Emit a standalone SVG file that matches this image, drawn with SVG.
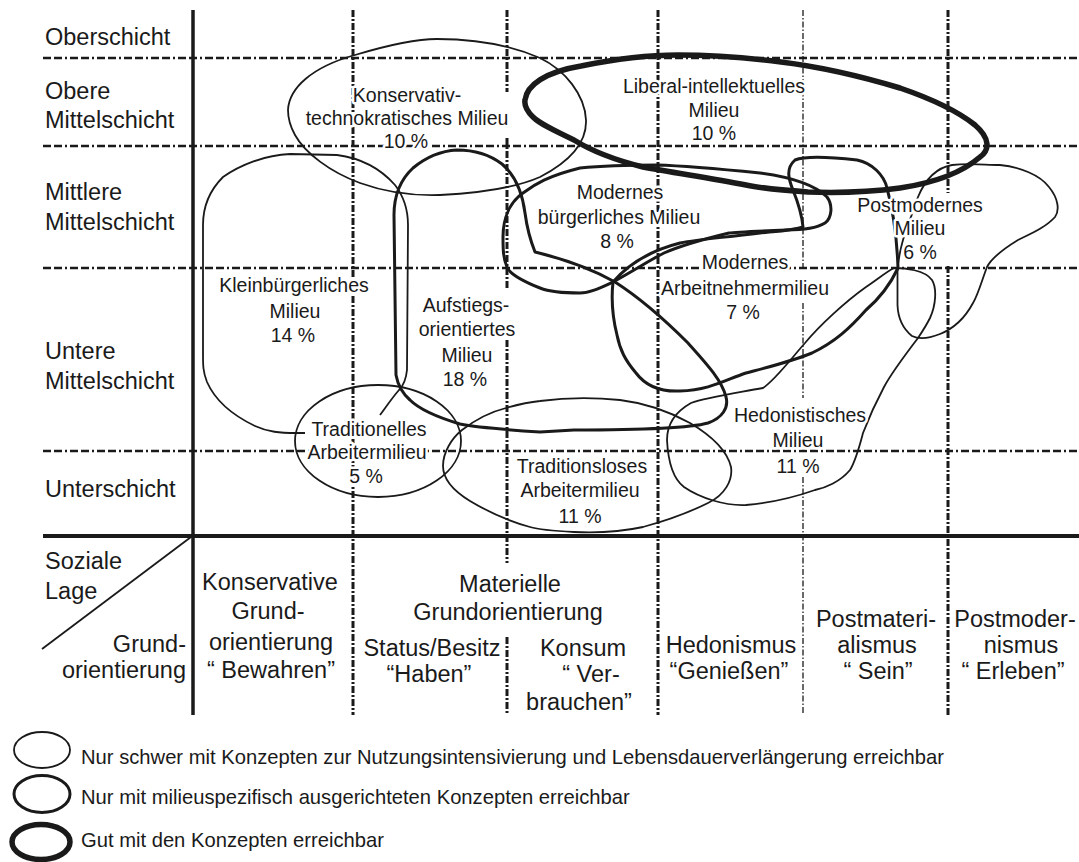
<svg xmlns="http://www.w3.org/2000/svg" width="1079" height="862" viewBox="0 0 1079 862">
<style>
text{font-family:"Liberation Sans",Arial,sans-serif;fill:#1a1a1a}
.ax{font-size:23.5px}
.ml{font-size:19.5px;text-anchor:middle;stroke:#fff;stroke-width:5;stroke-linejoin:round;paint-order:stroke}
.bt{font-size:23.5px;text-anchor:middle}
.lg{font-size:20.2px}
.h{stroke:#1a1a1a;stroke-width:2.3;stroke-dasharray:8 3 8 3 2 3;fill:none}
.v{stroke:#1a1a1a;stroke-width:3;stroke-dasharray:7 2 2 2;fill:none}
.vt{stroke:#1a1a1a;stroke-width:1.3;stroke-dasharray:6 2 1.5 2;fill:none}
.thin{fill:none;stroke:#1a1a1a;stroke-width:1.8;stroke-linejoin:round}
.med{fill:none;stroke:#1a1a1a;stroke-width:3;stroke-linejoin:round}
.thick{fill:none;stroke:#1a1a1a;stroke-width:5.5;stroke-linejoin:round}
</style>
<rect width="1079" height="862" fill="#fff"/>
<g id="grid">
<line class="h" x1="43" y1="58" x2="1079" y2="58"/>
<line class="h" x1="43" y1="146" x2="1079" y2="146"/>
<line class="h" x1="43" y1="268" x2="1079" y2="268"/>
<line class="h" x1="43" y1="451" x2="1079" y2="451"/>
<line class="v" x1="353" y1="10" x2="353" y2="715"/>
<path class="v" d="M507,10V92M507,138V288M507,340V563M507,637V715"/>
<line class="v" x1="658" y1="10" x2="658" y2="715"/>
<path class="vt" d="M803,10V270M803,303V398M803,477V715"/>
<path class="v" d="M948,10V193M948,266V715"/>
<line x1="43" y1="536" x2="1079" y2="536" stroke="#1a1a1a" stroke-width="4"/>
<line x1="193" y1="10" x2="193" y2="715" stroke="#1a1a1a" stroke-width="3.5"/>
<line x1="191" y1="537" x2="42" y2="649" stroke="#1a1a1a" stroke-width="1.8"/>
</g>
<g id="connectors"></g>
<g id="axis-labels">
<text class="ax" x="45" y="45">Oberschicht</text>
<text class="ax" x="45" y="99">Obere</text>
<text class="ax" x="45" y="128">Mittelschicht</text>
<text class="ax" x="45" y="200">Mittlere</text>
<text class="ax" x="45" y="230">Mittelschicht</text>
<text class="ax" x="45" y="359">Untere</text>
<text class="ax" x="45" y="389">Mittelschicht</text>
<text class="ax" x="45" y="497">Unterschicht</text>
<text class="ax" x="45" y="569">Soziale</text>
<text class="ax" x="45" y="599">Lage</text>
<text class="ax" x="186" y="652" text-anchor="end">Grund-</text>
<text class="ax" x="186" y="678" text-anchor="end">orientierung</text>
</g>
<g id="orientations">
<text class="bt" x="270" y="590">Konservative</text>
<text class="bt" x="268" y="619">Grund-</text>
<text class="bt" x="271" y="650">orientierung</text>
<text class="bt" x="271" y="678">“ Bewahren”</text>
<text class="bt" x="510" y="592">Materielle</text>
<text class="bt" x="508" y="620">Grundorientierung</text>
<text class="bt" x="432" y="656">Status/Besitz</text>
<text class="bt" x="429" y="682">“Haben”</text>
<text class="bt" x="583" y="656">Konsum</text>
<text class="bt" x="591" y="682">“ Ver-</text>
<text class="bt" x="579" y="710">brauchen”</text>
<text class="bt" x="731" y="653">Hedonismus</text>
<text class="bt" x="729" y="679">“Genießen”</text>
<text class="bt" x="876" y="627">Postmateri-</text>
<text class="bt" x="877" y="653">alismus</text>
<text class="bt" x="878" y="679">“ Sein”</text>
<text class="bt" x="1015" y="627">Postmoder-</text>
<text class="bt" x="1021" y="653">nismus</text>
<text class="bt" x="1013" y="679">“ Erleben”</text>
</g>
<g id="konservativ-technokratisch">
<path class="thin" d="M288,110 C289,88 312,67 355,55 C385,46 415,39 437,39 C475,39 510,45 540,58 C565,70 585,95 586,120 C587,145 565,164 540,177 C515,188 480,193 440,195 C410,196 385,192 360,183 C330,172 305,153 295,135 C290,126 288,118 288,110 Z"/>
</g>
<g id="liberal-intellektuell">
<path class="thick" d="M525,100 C527,85 545,72 581,66 C620,58 650,55 678,55 C720,55 750,58 781,62 C830,68 870,79 900,88 C935,100 960,113 975,125 C990,138 990,150 980,157 C965,170 940,182 900,188 C870,192 835,193 808,192 C780,190 760,188 746,185 C710,178 675,173 643,167 C615,160 590,150 574,140 C555,131 540,124 533,117 C527,111 524,106 525,100 Z"/>
</g>
<g id="kleinbuergerlich">
<path class="thin" d="M305,433 L296,433 C280,433 268,432 255,426 C232,415 215,400 207,382 C203,372 203,365 203,355 L203,225 C203,205 210,190 223,177 C240,165 265,155 290,154 L337,155 C360,158 380,168 395,185 C405,198 408,210 408,225 L407,370 C406,380 403,386 399,390 C392,398 386,407 380,415"/>
</g>
<g id="aufstiegsorientiert">
<path class="med" d="M394,215 C394,195 400,180 413,168 C425,158 440,151 457,150 C475,150 490,155 502,164 C515,175 522,190 525,213 C527,228 531,242 535,252 C560,258 590,268 615,282 C640,298 665,320 688,343 C705,362 722,380 726,397 C729,408 722,418 708,423 C690,428 640,430 574,430 L540,432 C510,430 480,428 460,424 C440,418 420,410 410,400 C402,393 398,386 396,375 L394,215 Z"/>
</g>
<g id="modern-buergerlich">
<path class="med" d="M503,237 C503,218 510,202 523,193 C535,184 548,176 580,168 C600,166 630,165 657,165 C690,166 720,169 760,173 C790,177 815,185 827,197 C833,205 832,218 825,223 C815,229 800,230 787,230 C760,231 735,232 729,233 C700,240 680,246 664,253 C650,260 635,270 613,282 C600,288 590,293 580,293 C565,293 550,292 540,288 C525,282 510,275 507,267 C503,258 503,248 503,237 Z"/>
</g>
<g id="modern-arbeitnehmer">
<path class="med" d="M613,282 C625,268 645,252 680,243 C700,239 720,238 760,233 C780,231 795,230 803,227 C802,215 797,200 793,190 C788,178 786,168 795,160 C805,156 830,157 857,160 C872,163 884,175 887,188 C893,210 897,240 898,268 C890,285 880,298 866,310 C850,328 835,342 812,353 C790,362 765,368 746,373 C725,380 710,390 680,391 C660,392 645,385 636,373 C625,360 620,350 617,335 C612,315 611,300 613,282 Z"/>
</g>
<g id="postmodern">
<path class="thin" d="M918,197 C925,180 935,168 952,165 C970,163 985,165 1000,165 C1020,167 1040,175 1049,187 C1058,198 1060,210 1055,217 C1045,228 1030,234 1018,240 C1005,248 992,257 987,267 C982,280 978,295 973,303 C965,318 955,328 940,334 C930,338 920,340 912,336 C902,328 898,318 897.5,305 L897.5,272 C898,255 905,230 911,217 C914,208 916,202 918,197 Z"/>
</g>
<g id="hedonistisch">
<path class="thin" d="M894,268 C905,268 925,270 932,280 C937,288 936,305 930,318 C926,326 922,332 918,338 C905,355 892,372 884,387 C876,402 868,420 863,433 C859,448 856,460 850,470 C840,482 825,488 815,490 C795,497 770,503 746,505 C725,506 700,498 684,487 C672,478 668,460 667,440 C667,425 675,412 691,403 C705,398 725,395 763,388 C775,380 790,360 805,343 C820,325 845,302 866,287 C878,279 886,272 894,268 Z"/>
</g>
<g id="traditionell">
<ellipse class="thin" cx="378" cy="441" rx="83" ry="56"/>
</g>
<g id="traditionslos">
<path class="thin" d="M540,401 C570,397 600,398 620,400 C645,403 670,412 690,423 C712,436 727,450 731,467 C733,480 725,495 708,503 C690,512 665,521 643,527 C620,532 595,533 574,532 C555,531 540,530 530,527 C505,520 485,510 470,501 C452,490 443,478 443,466 C443,452 452,438 462,430 C475,420 490,412 506,408 C520,404 530,402 540,401 Z"/>
</g>
<g id="milieu-labels">
<text class="ml" x="407" y="102">Konservativ-</text>
<text class="ml" x="407" y="125">technokratisches Milieu</text>
<text class="ml" x="406" y="148">10 %</text>
<text class="ml" x="714" y="93">Liberal-intellektuelles</text>
<text class="ml" x="714" y="117">Milieu</text>
<text class="ml" x="714" y="140">10 %</text>
<text class="ml" x="620" y="199">Modernes</text>
<text class="ml" x="619" y="224">bürgerliches Milieu</text>
<text class="ml" x="617" y="248">8 %</text>
<text class="ml" x="920" y="212" text-anchor="start">Postmodernes</text>
<text class="ml" x="920" y="235" text-anchor="start">Milieu</text>
<text class="ml" x="920" y="259" text-anchor="start">6 %</text>
<text class="ml" x="745" y="269">Modernes</text>
<text class="ml" x="745" y="295">Arbeitnehmermilieu</text>
<text class="ml" x="743" y="319">7 %</text>
<text class="ml" x="294" y="292">Kleinbürgerliches</text>
<text class="ml" x="295" y="318">Milieu</text>
<text class="ml" x="293" y="342">14 %</text>
<text class="ml" x="466" y="312">Aufstiegs-</text>
<text class="ml" x="467" y="336">orientiertes</text>
<text class="ml" x="467" y="362">Milieu</text>
<text class="ml" x="465" y="386">18 %</text>
<text class="ml" x="800" y="422">Hedonistisches</text>
<text class="ml" x="798" y="447">Milieu</text>
<text class="ml" x="798" y="473">11 %</text>
<text class="ml" x="369" y="436">Traditionelles</text>
<text class="ml" x="367" y="459">Arbeitermilieu</text>
<text class="ml" x="366" y="483">5 %</text>
<text class="ml" x="582" y="473">Traditionsloses</text>
<text class="ml" x="580" y="497">Arbeitermilieu</text>
<text class="ml" x="580" y="523">11 %</text>
</g>
<g id="legend">
<ellipse class="thin" cx="42" cy="750" rx="28" ry="18"/>
<text class="lg" x="81" y="764">Nur schwer mit Konzepten zur Nutzungsintensivierung und Lebensdauerverlängerung erreichbar</text>
<ellipse class="med" cx="42" cy="794" rx="28" ry="18.5"/>
<text class="lg" x="81" y="804">Nur mit milieuspezifisch ausgerichteten Konzepten erreichbar</text>
<ellipse class="thick" cx="41" cy="842" rx="29" ry="17.5"/>
<text class="lg" x="81" y="847">Gut mit den Konzepten erreichbar</text>
</g>
</svg>
